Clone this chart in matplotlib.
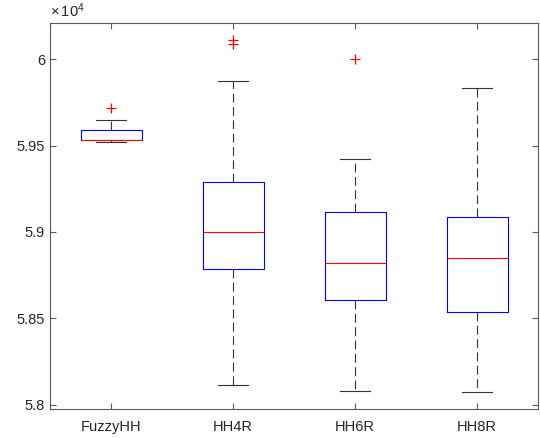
import numpy as np
import matplotlib
matplotlib.use('Agg')
import matplotlib.pyplot as plt
from matplotlib.ticker import FuncFormatter

plt.rcParams['font.family'] = ['Liberation Sans', 'DejaVu Sans']
plt.rcParams['mathtext.default'] = 'regular'

# 各组箱线图统计量
labels = ['FuzzyHH', 'HH4R', 'HH6R', 'HH8R']
whislo = [59523, 58113, 58078, 58072]
q1 = [59531, 58785, 58605, 58534]
med = [59534, 59001, 58818, 58850]
q3 = [59590, 59289, 59117, 59088]
whishi = [59648, 59876, 59421, 59834]
fliers = [[59717], [60114, 60088], [60002], []]

stats = []
for i in range(len(labels)):
    stats.append(dict(label=labels[i], whislo=whislo[i], q1=q1[i], med=med[i],
                      q3=q3[i], whishi=whishi[i], fliers=fliers[i]))

axis_color = '#262626'
line_gray = '#5a5a5a'

fig = plt.figure(figsize=(5.4, 4.38), dpi=100)
ax = fig.add_axes([0.0926, 0.0662, 0.9037, 0.882])

ax.bxp(stats, widths=0.5, capwidths=0.25,
       boxprops=dict(color='#0000ff', linewidth=0.8),
       medianprops=dict(color='#ff0000', linewidth=0.8),
       whiskerprops=dict(color='#333333', linewidth=0.8, linestyle=(0, (8, 4))),
       capprops=dict(color='#333333', linewidth=0.8),
       flierprops=dict(marker='+', markeredgecolor='#ff0000', markersize=7,
                       markeredgewidth=0.9, linestyle='none'))

ax.set_xlim(0.5, 4.5)
ax.set_ylim(57974, 60212)
ax.set_yticks([58000, 58500, 59000, 59500, 60000])
ax.yaxis.set_major_formatter(FuncFormatter(lambda v, _: f'{v / 1e4:g}'))

for s in ax.spines.values():
    s.set_color(line_gray)
    s.set_linewidth(0.8)
ax.tick_params(direction='in', length=4, width=0.8, color=line_gray,
               labelcolor=axis_color, labelsize=10.5, top=True, right=True)
ax.tick_params(axis='x', pad=8)

ax.text(0.0, 1.008, r'$\times\,10^{4}$', transform=ax.transAxes,
        ha='left', va='bottom', fontsize=10.5, color=axis_color)

fig.savefig('out.png', dpi=100)
